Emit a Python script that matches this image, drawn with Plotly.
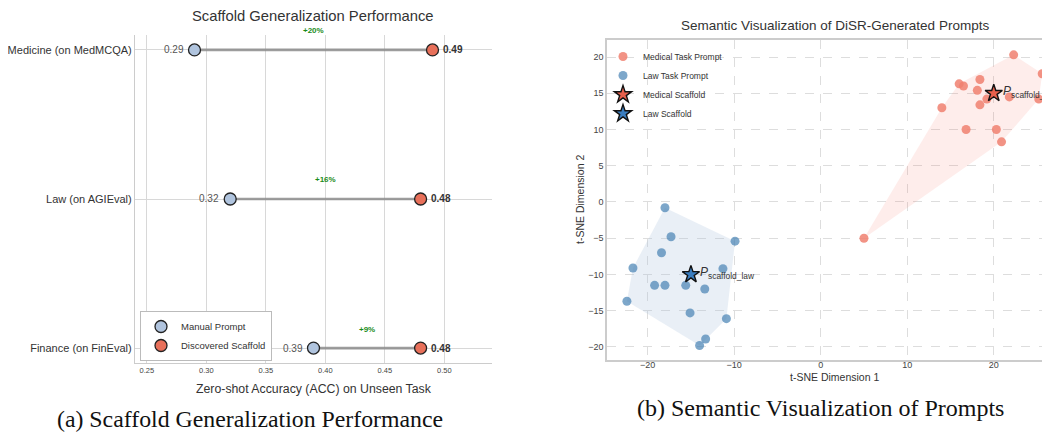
import plotly.graph_objects as go

# ---------------- Data: left panel ----------------
categories = ["Medicine (on MedMCQA)", "Law (on AGIEval)", "Finance (on FinEval)"]
manual_acc = [0.29, 0.32, 0.39]
scaffold_acc = [0.49, 0.48, 0.48]
x_ticks = [0.25, 0.30, 0.35, 0.40, 0.45, 0.50]

# ---------------- Data: right panel (t-SNE) ----------------
med_x = [22.3, 25.6, 16.0, 16.5, 18.4, 18.1, 19.2, 18.4, 14.0, 21.8, 25.2, 16.8, 20.3, 20.9, 5.0]
med_y = [20.3, 17.7, 16.3, 16.0, 16.9, 15.4, 14.2, 13.4, 13.0, 14.5, 14.2, 10.0, 10.0, 8.3, -5.0]
law_x = [-18.0, -9.9, -17.3, -18.4, -21.7, -11.3, -19.2, -18.0, -15.6, -13.4, -22.4, -15.1, -10.9, -13.3, -14.0]
law_y = [-0.8, -5.4, -4.8, -7.0, -9.1, -9.2, -11.5, -11.5, -11.5, -12.0, -13.7, -15.3, -16.1, -18.9, -19.8]
med_scaffold = [20.0, 15.0]
law_scaffold = [-15.0, -10.0]

SANS = "Liberation Sans, Arial, sans-serif"
SERIF = "Liberation Serif, Times New Roman, serif"

# page has an 8px body margin; figure sized to fill the rest of the window
OFF = 8
W, H = 1050 - OFF, 432 - OFF


def PX(p):
    return (p - OFF) / W


def PY(p):
    return 1 - (p - OFF) / H


def convex_hull(xs, ys):
    pts = sorted(set(zip(xs, ys)))
    if len(pts) < 3:
        return pts

    def cross(o, a, b):
        return (a[0] - o[0]) * (b[1] - o[1]) - (a[1] - o[1]) * (b[0] - o[0])

    lower, upper = [], []
    for p in pts:
        while len(lower) >= 2 and cross(lower[-2], lower[-1], p) <= 0:
            lower.pop()
        lower.append(p)
    for p in reversed(pts):
        while len(upper) >= 2 and cross(upper[-2], upper[-1], p) <= 0:
            upper.pop()
        upper.append(p)
    hull = lower[:-1] + upper[:-1]
    return hull + [hull[0]]


fig = go.Figure()

# ---- left panel: connectors ----
lx, ly = [], []
for c, m, s in zip(categories, manual_acc, scaffold_acc):
    lx += [m, s, None]
    ly += [c, c, None]
fig.add_trace(go.Scatter(x=lx, y=ly, mode="lines", line=dict(color="rgba(140,140,140,0.85)", width=2.6),
                         showlegend=False, hoverinfo="skip", xaxis="x", yaxis="y"))
fig.add_trace(go.Scatter(x=manual_acc, y=categories, mode="markers", name="Manual Prompt",
                         marker=dict(size=12, color="#b0c4de", line=dict(color="#222", width=1.3)),
                         legend="legend", xaxis="x", yaxis="y"))
fig.add_trace(go.Scatter(x=scaffold_acc, y=categories, mode="markers", name="Discovered Scaffold",
                         marker=dict(size=12, color="#e8705a", line=dict(color="#222", width=1.3)),
                         legend="legend", xaxis="x", yaxis="y"))

annotations = []
for c, m, s in zip(categories, manual_acc, scaffold_acc):
    annotations.append(dict(x=m, y=c, xref="x", yref="y", text=f"{m:.2f}", showarrow=False,
                            xanchor="right", yanchor="middle", xshift=-9,
                            font=dict(family=SANS, size=10, color="#555")))
    annotations.append(dict(x=s, y=c, xref="x", yref="y", text=f"<b>{s:.2f}</b>", showarrow=False,
                            xanchor="left", yanchor="middle", xshift=8,
                            font=dict(family=SANS, size=10, color="#333")))
    gain = round((s - m) * 100)
    annotations.append(dict(x=(m + s) / 2, y=c, xref="x", yref="y", text=f"<b>+{gain}%</b>",
                            showarrow=False, xanchor="center", yanchor="middle", yshift=19,
                            font=dict(family=SANS, size=8, color="#1a8c1a")))

# ---- right panel ----
hx, hy = zip(*convex_hull(med_x, med_y))
fig.add_trace(go.Scatter(x=hx, y=hy, mode="lines", fill="toself", fillcolor="rgba(250,128,114,0.14)",
                         line=dict(width=0), showlegend=False, hoverinfo="skip", xaxis="x2", yaxis="y2"))
hx, hy = zip(*convex_hull(law_x, law_y))
fig.add_trace(go.Scatter(x=hx, y=hy, mode="lines", fill="toself", fillcolor="rgba(176,196,222,0.28)",
                         line=dict(width=0), showlegend=False, hoverinfo="skip", xaxis="x2", yaxis="y2"))
fig.add_trace(go.Scatter(x=med_x, y=med_y, mode="markers", name="Medical Task Prompt",
                         marker=dict(size=9, color="rgba(240,128,112,0.85)"), cliponaxis=False,
                         legend="legend2", xaxis="x2", yaxis="y2"))
fig.add_trace(go.Scatter(x=law_x, y=law_y, mode="markers", name="Law Task Prompt",
                         marker=dict(size=9, color="rgba(70,130,180,0.7)"),
                         legend="legend2", xaxis="x2", yaxis="y2"))
fig.add_trace(go.Scatter(x=[med_scaffold[0]], y=[med_scaffold[1]], mode="markers", name="Medical Scaffold",
                         marker=dict(size=13, symbol="star", color="#e8604c", line=dict(color="#111", width=1.4)),
                         legend="legend2", xaxis="x2", yaxis="y2"))
fig.add_trace(go.Scatter(x=[law_scaffold[0]], y=[law_scaffold[1]], mode="markers", name="Law Scaffold",
                         marker=dict(size=13, symbol="star", color="#3a7dbf", line=dict(color="#111", width=1.4)),
                         legend="legend2", xaxis="x2", yaxis="y2"))

annotations.append(dict(x=med_scaffold[0], y=med_scaffold[1], xref="x2", yref="y2",
                        text="<i>P</i><sub>scaffold_med</sub>", showarrow=False, xanchor="left",
                        yanchor="middle", xshift=7, yshift=1,
                        font=dict(family=SANS, size=12, color="#333")))
annotations.append(dict(x=law_scaffold[0], y=law_scaffold[1], xref="x2", yref="y2",
                        text="<i>P</i><sub>scaffold_law</sub>", showarrow=False, xanchor="left",
                        yanchor="middle", xshift=7, yshift=1,
                        font=dict(family=SANS, size=12, color="#333")))


def paper_text(x, y, text, size, family=SANS, color="#333", angle=0):
    return dict(x=PX(x), y=PY(y), xref="paper", yref="paper", text=text, showarrow=False,
                xanchor="center", yanchor="middle", textangle=angle,
                font=dict(family=family, size=size, color=color))


annotations += [
    paper_text(313, 16, "Scaffold Generalization Performance", 14.8),
    paper_text(314, 389, "Zero-shot Accuracy (ACC) on Unseen Task", 12.3),
    paper_text(835, 25, "Semantic Visualization of DiSR-Generated Prompts", 13.5),
    paper_text(834, 377, "t-SNE Dimension 1", 10.5),
    paper_text(580, 200, "t-SNE Dimension 2", 10.5, angle=-90),
    paper_text(250, 419, "(a) Scaffold Generalization Performance", 23.8, family=SERIF, color="#111"),
    paper_text(820, 408, "(b) Semantic Visualization of Prompts", 24, family=SERIF, color="#111"),
]

fig.update_layout(
    width=W, height=H, margin=dict(l=0, r=0, t=0, b=0, autoexpand=False),
    paper_bgcolor="white", plot_bgcolor="white",
    font=dict(family=SANS, color="#333"),
    annotations=annotations,
    xaxis=dict(domain=[PX(135), PX(492)], range=[0.24, 0.54], tickvals=x_ticks,
               ticktext=[f"{v:.2f}" for v in x_ticks], tickfont=dict(size=7.5, color="#444"),
               showgrid=True, gridcolor="#d8d8d8", gridwidth=1, zeroline=False, automargin=False,
               showline=True, linecolor="#cccccc", linewidth=1.2, anchor="y", ticks=""),
    yaxis=dict(domain=[PY(363), PY(35)], type="category",
               categoryorder="array", categoryarray=categories[::-1], range=[-0.1, 2.1],
               tickfont=dict(size=11, color="#333"), showgrid=True, gridcolor="#d8d8d8", gridwidth=1,
               zeroline=False, automargin=False,
               showline=True, linecolor="#cccccc", linewidth=1.2, anchor="x", ticks=""),
    xaxis2=dict(domain=[PX(607), 1.0], range=[-24.7, 26.5], dtick=10, tickfont=dict(size=9, color="#444"),
                showgrid=True, gridcolor="#dddddd", gridwidth=0.8, griddash="dash", zeroline=False,
                automargin=False, ticklabelstandoff=-5,
                showline=True, mirror=True, linecolor="#cccccc", linewidth=1.5, anchor="y2", ticks=""),
    yaxis2=dict(domain=[PY(360), PY(40)], range=[-21.8, 22.35], dtick=5,
                tickfont=dict(size=9, color="#444"), automargin=False,
                showgrid=True, gridcolor="#dddddd", gridwidth=0.8, griddash="dash", zeroline=False,
                showline=True, linecolor="#cccccc", linewidth=1.5, anchor="x2", ticks=""),
    legend=dict(x=PX(140), y=PY(361), xanchor="left", yanchor="bottom",
                bgcolor="white", bordercolor="#bbbbbb", borderwidth=1,
                font=dict(family=SANS, size=9.5, color="#333"), tracegroupgap=0),
    legend2=dict(x=PX(603), y=PY(42), xanchor="left", yanchor="top",
                 bgcolor="rgba(255,255,255,0)", borderwidth=0,
                 font=dict(family=SANS, size=8.5, color="#333"), tracegroupgap=0),
)

fig.write_html("out.html")
